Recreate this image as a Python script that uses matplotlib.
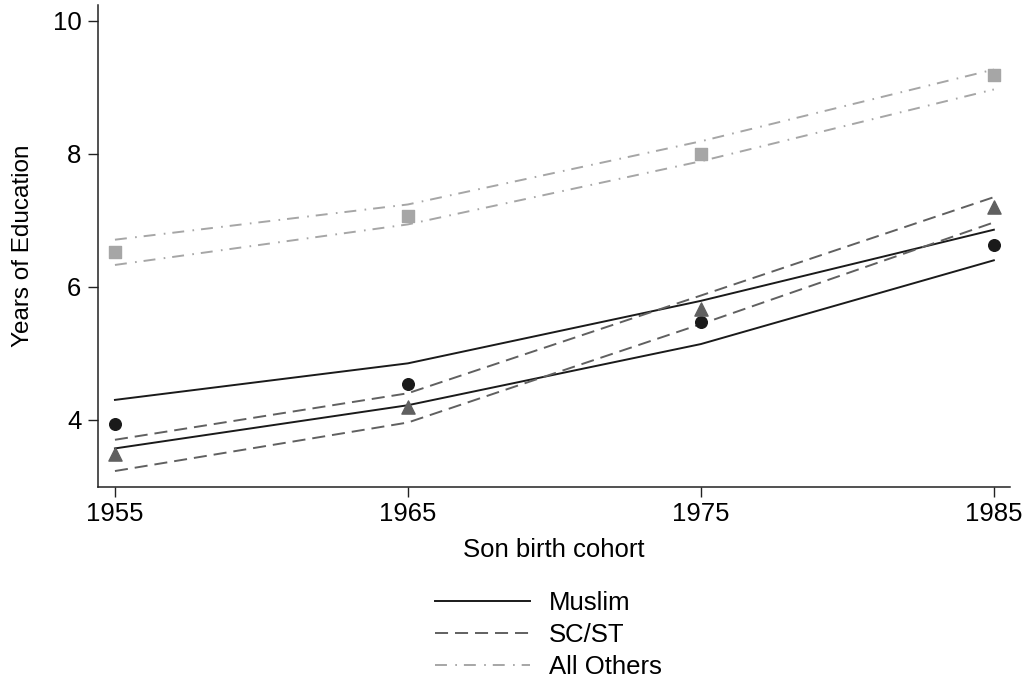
import numpy as np
import matplotlib.pyplot as plt

plt.rcParams['font.family'] = ['Liberation Sans', 'DejaVu Sans']
plt.rcParams['lines.scale_dashes'] = False

# son birth cohorts
cohort = [1955, 1965, 1975, 1985]

# mean years of education with confidence band
muslim_mean = [3.93, 4.54, 5.47, 6.63]
muslim_hi = [4.30, 4.85, 5.79, 6.86]
muslim_lo = [3.57, 4.22, 5.14, 6.40]

scst_mean = [3.48, 4.19, 5.67, 7.20]
scst_hi = [3.70, 4.40, 5.87, 7.35]
scst_lo = [3.23, 3.96, 5.44, 6.97]

other_mean = [6.52, 7.07, 8.00, 9.19]
other_hi = [6.71, 7.24, 8.19, 9.27]
other_lo = [6.33, 6.94, 7.89, 8.97]

c_mus = '#1a1a1a'
c_sc = '#606060'
c_oth = '#a6a6a6'
dash = (0, (9.4, 5.0))
dashdot = (0, (8.6, 6.0, 1.2, 5.0))

fig = plt.figure(figsize=(10.29, 6.89), dpi=100)
ax = fig.add_axes([0.0952, 0.2932, 0.8863, 0.6995])

lw = 1.4
ax.plot(cohort, muslim_hi, color=c_mus, lw=lw, label='Muslim')
ax.plot(cohort, muslim_lo, color=c_mus, lw=lw)
ax.plot(cohort, scst_hi, color=c_sc, lw=lw, ls=dash, label='SC/ST')
ax.plot(cohort, scst_lo, color=c_sc, lw=lw, ls=dash)
ax.plot(cohort, other_hi, color=c_oth, lw=lw, ls=dashdot, label='All Others')
ax.plot(cohort, other_lo, color=c_oth, lw=lw, ls=dashdot)

ax.scatter(cohort, muslim_mean, marker='o', s=70, color=c_mus, zorder=3)
ax.scatter(cohort, scst_mean, marker='^', s=90, color=c_sc, zorder=3)
ax.scatter(cohort, other_mean, marker='s', s=65, color=c_oth, zorder=3)

ax.set_xlim(1954.42, 1985.55)
ax.set_ylim(2.99, 10.24)
ax.set_xticks(cohort)
ax.set_yticks([4, 6, 8, 10])
ax.tick_params(labelsize=18.5, length=7, width=1, color='#222222')
ax.tick_params(axis='y', pad=5)
for s in ['top', 'right']:
    ax.spines[s].set_visible(False)
for s in ['left', 'bottom']:
    ax.spines[s].set_linewidth(1.1)
    ax.spines[s].set_color('#222222')

ax.set_xlabel('Son birth cohort', fontsize=18.5, labelpad=9)
ax.set_ylabel('Years of Education', fontsize=17.5, labelpad=13)

fig.legend(loc='upper center', bbox_to_anchor=(0.533, 0.157), ncol=1,
           frameon=False, fontsize=18.5, handlelength=3.7, handletextpad=0.75,
           labelspacing=0.3, borderaxespad=0)

fig.savefig('out.png', dpi=100)
